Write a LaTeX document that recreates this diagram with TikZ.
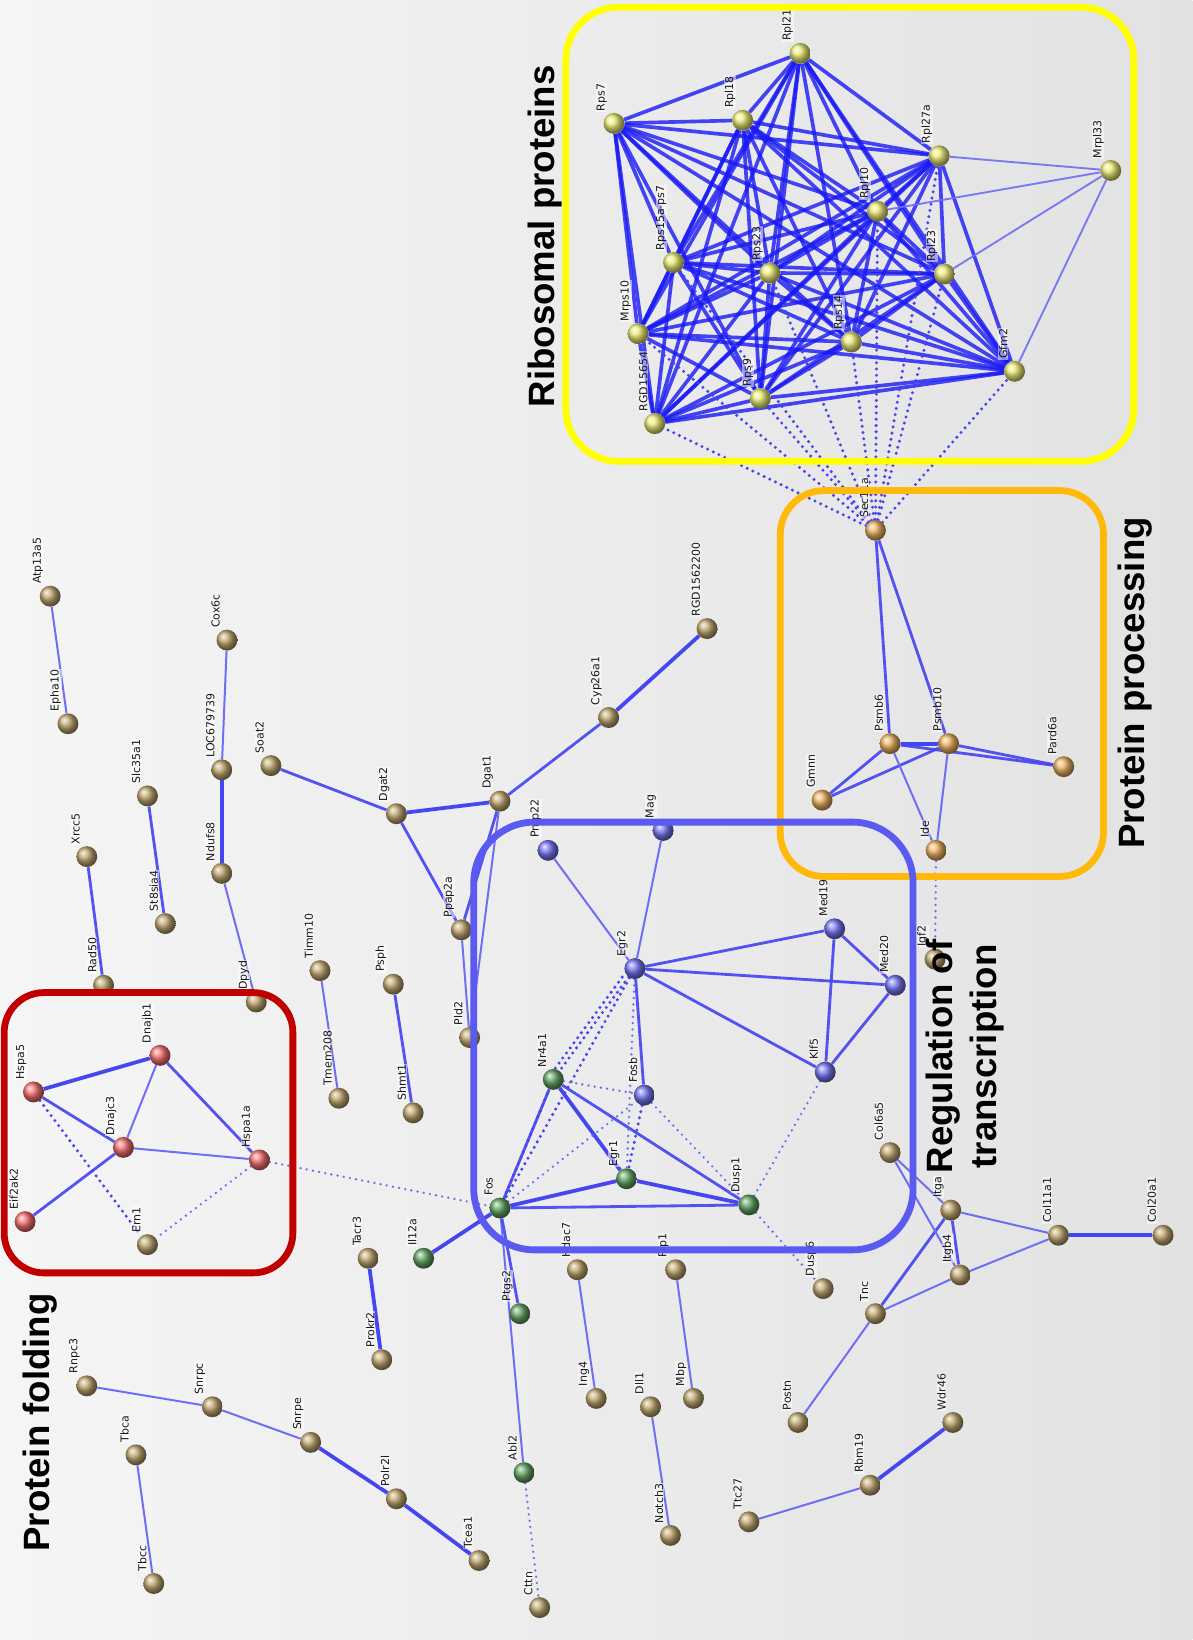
\documentclass[tikz,border=0pt]{standalone}
\usepackage{fontspec}
\newfontfamily\lblfont{DejaVu Sans}
\newfontfamily\ttlfont{Liberation Sans}
\definecolor{bgL}{RGB}{245,245,245}
\definecolor{bgR}{RGB}{226,226,226}
\definecolor{cYel}{RGB}{236,236,120}
\definecolor{cOra}{RGB}{236,178,98}
\definecolor{cBrn}{RGB}{192,168,112}
\definecolor{cRed}{RGB}{245,112,112}
\definecolor{cBlu}{RGB}{118,118,245}
\definecolor{cGrn}{RGB}{100,165,100}
\definecolor{eDark}{RGB}{25,25,245}
\definecolor{eMid}{RGB}{70,70,240}
\definecolor{eLight}{RGB}{110,110,245}
\definecolor{bxYel}{RGB}{255,255,0}
\definecolor{bxOra}{RGB}{255,185,10}
\definecolor{bxBlu}{RGB}{90,90,240}
\definecolor{bxRed}{RGB}{192,0,0}
\pgfdeclarelayer{bg}
\pgfdeclarelayer{edges}
\pgfdeclarelayer{top}
\pgfsetlayers{bg,edges,main,top}
\tikzset{
  gene/.style={circle, minimum size=20pt, inner sep=0pt, shading=ball},
  yel/.style={gene, ball color=cYel},
  ora/.style={gene, ball color=cOra},
  brn/.style={gene, ball color=cBrn},
  red/.style={gene, ball color=cRed},
  blu/.style={gene, ball color=cBlu},
  grn/.style={gene, ball color=cGrn},
  glbl/.style={rotate=90, anchor=south west, inner sep=0.6pt, text=black!90,
    fill=white, fill opacity=0.5, text opacity=1,
    font=\lblfont\fontsize{10.5}{12}\selectfont},
  ttl/.style={rotate=90, align=center, inner sep=0pt, text=black,
    font=\ttlfont\bfseries\fontsize{35}{42}\selectfont},
  rib/.style={line width=3.5pt, draw=eDark, draw opacity=0.8},
  ribthin/.style={line width=1.8pt, draw=eLight, draw opacity=0.9},
  est/.style={line width=3.6pt, draw=eMid},
  esm/.style={line width=2.7pt, draw=eMid, draw opacity=0.92},
  esl/.style={line width=1.9pt, draw=eLight},
  edot/.style={line width=3.2pt, draw=eMid, dash pattern=on 0pt off 6pt, line cap=round},
  edotl/.style={line width=2.5pt, draw=eLight, dash pattern=on 0pt off 6pt, line cap=round},
  grpbox/.style={line width=6.5pt},
}
\newcommand\genenode[5]{\node[#1] (#2) at (#3,#4) {};
  \node[glbl] (#2L) at ([shift={(-6pt,11pt)}]#2.center) {#5};}
\begin{document}
\begin{tikzpicture}[x=1pt,y=-1pt]
\useasboundingbox (0,0) rectangle (1140,1568);
\begin{pgfonlayer}{bg}
\shade[left color=bgL, right color=bgR] (0,0) rectangle (1140,1568);
\end{pgfonlayer}

% ---------- ribosomal ----------
\genenode{yel}{Rpl21}{765}{51}{Rpl21}
\genenode{yel}{Rps7}{587}{118}{Rps7}
\genenode{yel}{Rpl18}{710}{115}{Rpl18}
\genenode{yel}{Rpl27a}{898}{149}{Rpl27a}
\genenode{yel}{Mrpl33}{1062}{163}{Mrpl33}
\genenode{yel}{Rpl10}{839}{202}{Rpl10}
\genenode{yel}{Rps15}{644}{251}{Rps15a-ps7}
\genenode{yel}{Rps23}{736}{261}{Rps23}
\genenode{yel}{Rpl23}{903}{262}{Rpl23}
\genenode{yel}{Mrps10}{610}{319}{Mrps10}
\genenode{yel}{Rps14}{814}{327}{Rps14}
\genenode{yel}{Gfm2}{970}{355}{Gfm2}
\genenode{yel}{Rps9}{727}{381}{Rps9}
\genenode{yel}{RGDa}{626}{405}{RGD15654}

% ---------- protein processing ----------
\genenode{ora}{Sec11a}{837}{507}{Sec11a}
\genenode{ora}{Psmb6}{851}{711}{Psmb6}
\genenode{ora}{Psmb10}{907}{711}{Psmb10}
\genenode{ora}{Pard6a}{1017}{733}{Pard6a}
\genenode{ora}{Gmnn}{786}{765}{Gmnn}
\genenode{ora}{Ide}{895}{813}{Ide}

% ---------- regulation of transcription ----------
\genenode{blu}{Pmp22}{524}{813}{Pmp22}
\genenode{blu}{Mag}{634}{794}{Mag}
\genenode{blu}{Egr2}{607}{926}{Egr2}
\genenode{blu}{Med19}{798}{888}{Med19}
\genenode{blu}{Med20}{856}{942}{Med20}
\genenode{blu}{Klf5}{789}{1025}{Klf5}
\genenode{blu}{Fosb}{616}{1047}{Fosb}
\genenode{grn}{Nr4a1}{529}{1032}{Nr4a1}
\genenode{grn}{Egr1}{599}{1127}{Egr1}
\genenode{grn}{Dusp1}{716}{1152}{Dusp1}
\genenode{grn}{Fos}{478}{1155}{Fos}
\genenode{grn}{Il12a}{405}{1203}{Il12a}
\genenode{grn}{Ptgs2}{497}{1256}{Ptgs2}
\genenode{grn}{Abl2}{501}{1408}{Abl2}

% ---------- protein folding ----------
\genenode{red}{Hspa5}{32}{1044}{Hspa5}
\genenode{red}{Dnajb1}{153}{1009}{Dnajb1}
\genenode{red}{Dnajc3}{118}{1097}{Dnajc3}
\genenode{red}{Hspa1a}{248}{1109}{Hspa1a}
\genenode{red}{Eif2ak2}{24}{1168}{Eif2ak2}
\genenode{brn}{Ern1}{141}{1190}{Ern1}

% ---------- others ----------
\genenode{brn}{Atp13a5}{48}{570}{Atp13a5}
\genenode{brn}{Epha10}{65}{692}{Epha10}
\genenode{brn}{Cox6c}{217}{612}{Cox6c}
\genenode{brn}{LOC}{212}{736}{LOC679739}
\genenode{brn}{Ndufs8}{212}{835}{Ndufs8}
\genenode{brn}{Dpyd}{245}{958}{Dpyd}
\genenode{brn}{Slc35a1}{141}{761}{Slc35a1}
\genenode{brn}{St8sia4}{158}{883}{St8sia4}
\genenode{brn}{Xrcc5}{83}{819}{Xrcc5}
\genenode{brn}{Rad50}{99}{942}{Rad50}
\genenode{brn}{Timm10}{306}{928}{Timm10}
\genenode{brn}{Tmem208}{324}{1050}{Tmem208}
\genenode{brn}{Psph}{376}{941}{Psph}
\genenode{brn}{Shmt1}{395}{1064}{Shmt1}
\genenode{brn}{Soat2}{259}{732}{Soat2}
\genenode{brn}{Dgat2}{379}{778}{Dgat2}
\genenode{brn}{Dgat1}{478}{766}{Dgat1}
\genenode{brn}{Cyp26a1}{582}{686}{Cyp26a1}
\genenode{brn}{RGDb}{676}{601}{RGD1562200}
\genenode{brn}{Ppap2a}{441}{889}{Ppap2a}
\genenode{brn}{Pld2}{449}{992}{Pld2}
\genenode{brn}{Igf2}{894}{917}{Igf2}
\genenode{brn}{Col6a5}{851}{1102}{Col6a5}
\genenode{brn}{Itga}{909}{1157}{Itga}
\genenode{brn}{Itgb4}{918}{1219}{Itgb4}
\genenode{brn}{Col11a1}{1012}{1181}{Col11a1}
\genenode{brn}{Col20a1}{1112}{1181}{Col20a1}
\genenode{brn}{Tnc}{837}{1256}{Tnc}
\genenode{brn}{Postn}{763}{1360}{Postn}
\genenode{brn}{Wdr46}{911}{1360}{Wdr46}
\genenode{brn}{Rbm19}{832}{1420}{Rbm19}
\genenode{brn}{Ttc27}{716}{1455}{Ttc27}
\genenode{brn}{Dusp6}{787}{1232}{Dusp6}
\genenode{brn}{Hdac7}{552}{1214}{Hdac7}
\genenode{brn}{Ing4}{570}{1337}{Ing4}
\genenode{brn}{Plp1}{646}{1214}{Plp1}
\genenode{brn}{Mbp}{663}{1337}{Mbp}
\genenode{brn}{Dll1}{622}{1345}{Dll1}
\genenode{brn}{Notch3}{641}{1468}{Notch3}
\genenode{brn}{Tacr3}{352}{1203}{Tacr3}
\genenode{brn}{Prokr2}{365}{1300}{Prokr2}
\genenode{brn}{Cttn}{516}{1537}{Cttn}
\genenode{brn}{Rnpc3}{83}{1325}{Rnpc3}
\genenode{brn}{Snrpc}{203}{1345}{Snrpc}
\genenode{brn}{Snrpe}{297}{1379}{Snrpe}
\genenode{brn}{Polr2l}{379}{1433}{Polr2l}
\genenode{brn}{Tcea1}{458}{1492}{Tcea1}
\genenode{brn}{Tbca}{130}{1391}{Tbca}
\genenode{brn}{Tbcc}{147}{1514}{Tbcc}

% ---------- edges ----------
\begin{pgfonlayer}{edges}
\foreach \a [count=\i] in {Rps7,Rpl18,Rpl21,Rpl27a,Rpl10,Rps15,Rps23,Rpl23,Mrps10,Rps14,Gfm2,Rps9,RGDa}{
  \foreach \b [count=\j] in {Rps7,Rpl18,Rpl21,Rpl27a,Rpl10,Rps15,Rps23,Rpl23,Mrps10,Rps14,Gfm2,Rps9,RGDa}{
    \ifnum\j>\i \draw[rib] (\a) -- (\b); \fi
  }
}
\foreach \b in {Rpl27a,Rpl10,Rpl23,Gfm2} \draw[ribthin] (Mrpl33) -- (\b);
\foreach \b in {RGDa,Mrps10,Rps9,Rps15,Rps23,Rps14,Rpl10,Rpl27a,Rpl23,Gfm2}
  \draw[edot] (Sec11a) -- (\b);
% protein processing
\foreach \a/\b in {Sec11a/Psmb6,Sec11a/Psmb10,Psmb6/Pard6a,Psmb10/Pard6a,Gmnn/Psmb6,Gmnn/Psmb10}
  \draw[esm] (\a) -- (\b);
\draw[est] (Psmb6) -- (Psmb10);
\foreach \a/\b in {Psmb6/Ide,Psmb10/Ide} \draw[esl] (\a) -- (\b);
\draw[edotl] (Ide) -- (Igf2);
% regulation
\foreach \a/\b in {Pmp22/Egr2,Mag/Egr2,Fos/Abl2} \draw[esl] (\a) -- (\b);
\foreach \a/\b in {Egr2/Med19,Egr2/Med20,Egr2/Klf5,Egr2/Fosb,Med19/Med20,Med19/Klf5,Med20/Klf5,Nr4a1/Fos,Nr4a1/Dusp1,Fos/Dusp1,Fos/Ptgs2}
  \draw[esm] (\a) -- (\b);
\foreach \a/\b in {Nr4a1/Egr1,Fos/Egr1,Egr1/Dusp1,Fos/Il12a} \draw[est] (\a) -- (\b);
\foreach \a/\b in {Egr2/Nr4a1,Egr2/Fos,Fosb/Egr1,Fos/Nr4a1} \draw[edot] (\a) -- (\b);
\draw[edot, transform canvas={xshift=-6pt}] (Egr2) -- (Nr4a1);
\foreach \a/\b in {Egr2/Egr1,Nr4a1/Fosb,Fosb/Dusp1,Fos/Fosb,Klf5/Dusp1,Dusp1/Dusp6,Hspa1a/Fos,Abl2/Cttn}
  \draw[edotl] (\a) -- (\b);
% folding
\foreach \a/\b in {Hspa5/Dnajb1} \draw[est] (\a) -- (\b);
\foreach \a/\b in {Hspa5/Dnajc3,Dnajb1/Hspa1a,Dnajc3/Eif2ak2} \draw[esm] (\a) -- (\b);
\foreach \a/\b in {Dnajb1/Dnajc3,Dnajc3/Hspa1a} \draw[esl] (\a) -- (\b);
\draw[edot] (Hspa5) -- (Ern1);
\draw[edotl] (Hspa1a) -- (Ern1);
% other pairs
\foreach \a/\b in {Dgat2/Dgat1,Cyp26a1/RGDb,LOC/Ndufs8,Col11a1/Col20a1,Tacr3/Prokr2,Rbm19/Wdr46,Snrpe/Polr2l,Polr2l/Tcea1}
  \draw[est] (\a) -- (\b);
\foreach \a/\b in {Soat2/Dgat2,Dgat1/Cyp26a1,Dgat2/Ppap2a,Dgat1/Ppap2a,Slc35a1/St8sia4,Xrcc5/Rad50,Psph/Shmt1,Tnc/Itga,Itga/Itgb4}
  \draw[esm] (\a) -- (\b);
\foreach \a/\b in {Ppap2a/Pld2,Dgat1/Pld2,Atp13a5/Epha10,Cox6c/LOC,Ndufs8/Dpyd,Timm10/Tmem208,Col6a5/Itga,Col6a5/Itgb4,Itga/Col11a1,Itgb4/Col11a1,Tnc/Itgb4,Tnc/Postn,Rbm19/Ttc27,Hdac7/Ing4,Plp1/Mbp,Dll1/Notch3,Rnpc3/Snrpc,Snrpc/Snrpe,Tbca/Tbcc}
  \draw[esl] (\a) -- (\b);
\end{pgfonlayer}

% ---------- group boxes and titles ----------
\begin{pgfonlayer}{top}
\draw[grpbox, draw=bxYel, rounded corners=50pt] (541,7) rectangle (1084,441);
\draw[grpbox, draw=bxOra, rounded corners=42pt] (746,469) rectangle (1055,838);
\draw[grpbox, draw=bxBlu, rounded corners=58pt] (453,786) rectangle (873,1195);
\draw[grpbox, draw=bxRed, rounded corners=38pt] (4,949) rectangle (280,1217);
\node[ttl] (tRib) at (521,226) {Ribosomal proteins};
\node[ttl] (tProc) at (1085,653) {Protein processing};
\node[ttl] (tFold) at (38,1360) {Protein folding};
\node[ttl] (tReg) at (923,1010) {Regulation of\\transcription};
\end{pgfonlayer}
\end{tikzpicture}
\end{document}
